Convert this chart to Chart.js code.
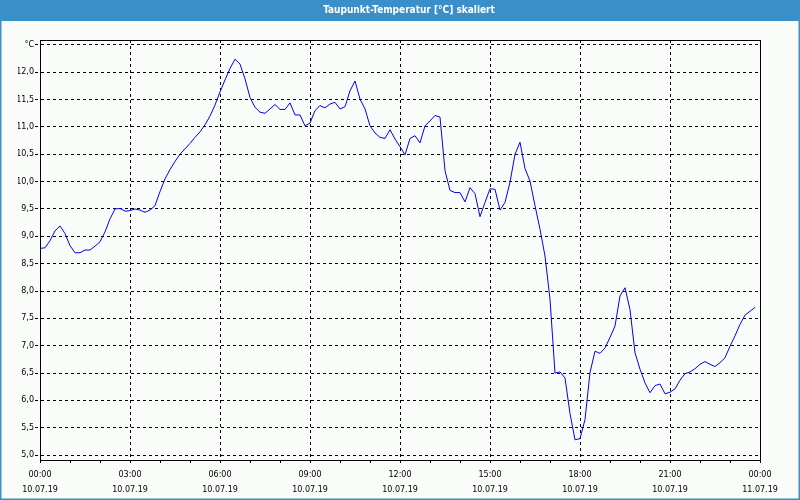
<!DOCTYPE html>
<html><head><meta charset="utf-8">
<script src="https://cdn.jsdelivr.net/npm/chart.js@4/dist/chart.umd.min.js"></script>
<style>html,body{margin:0;padding:0;background:#f9fcf9}canvas{display:block}</style>
</head><body>
<canvas id="c" width="800" height="500"></canvas>
<script>
const chartTitle = 'Taupunkt-Temperatur [°C] skaliert';
const hourLabels = ['00:00','03:00','06:00','09:00','12:00','15:00','18:00','21:00','00:00'];
const dateLabels = ['10.07.19','10.07.19','10.07.19','10.07.19','10.07.19','10.07.19','10.07.19','10.07.19','11.07.19'];
const yTicks = [5.0,5.5,6.0,6.5,7.0,7.5,8.0,8.5,9.0,9.5,10.0,10.5,11.0,11.5,12.0,12.5];
const yUnit = '°C';
const sampleMinutes = 10;
const dewPoint = [
 8.78,8.79,8.92,9.10,9.19,9.05,8.83,8.70,8.70,8.75,8.75,8.82,
 8.90,9.08,9.32,9.50,9.51,9.46,9.47,9.50,9.48,9.44,9.48,9.56,
 9.82,10.05,10.22,10.37,10.50,10.60,10.70,10.81,10.91,11.04,11.20,11.40,
 11.64,11.86,12.07,12.24,12.15,11.88,11.54,11.36,11.27,11.25,11.33,11.41,
 11.32,11.32,11.44,11.22,11.22,11.02,11.07,11.30,11.39,11.35,11.42,11.45,
 11.33,11.37,11.66,11.84,11.51,11.33,11.02,10.89,10.81,10.79,10.95,10.78,
 10.64,10.49,10.79,10.84,10.71,11.02,11.11,11.21,11.18,10.20,9.84,9.80,
 9.80,9.63,9.89,9.78,9.36,9.62,9.87,9.86,9.48,9.62,9.99,10.50,
 10.72,10.24,10.01,9.56,9.13,8.64,7.85,6.50,6.52,6.41,5.76,5.28,
 5.30,5.65,6.51,6.90,6.86,6.96,7.15,7.36,7.91,8.06,7.66,6.87,
 6.57,6.32,6.14,6.27,6.30,6.12,6.15,6.21,6.37,6.49,6.52,6.58,
 6.66,6.71,6.66,6.62,6.69,6.78,6.99,7.18,7.39,7.56,7.63,7.70
];
const points = dewPoint.map((v, i) => ({x: i * sampleMinutes / 60, y: v}));

const frame = {
  id: 'frame',
  beforeDraw(chart) {
    const ctx = chart.ctx;
    ctx.save();
    ctx.fillStyle = '#f9fcf9';
    ctx.fillRect(0, 0, 800, 500);
    ctx.fillStyle = '#3b8fc8';
    ctx.fillRect(0, 0, 800, 21);
    ctx.strokeStyle = '#3b8fc8';
    ctx.lineWidth = 1.5;
    ctx.strokeRect(0.75, 0.75, 798.5, 498.5);
    ctx.restore();
  },
  afterDraw(chart) {
    const a = chart.chartArea, ctx = chart.ctx;
    ctx.save();
    ctx.strokeStyle = '#000';
    ctx.lineWidth = 1;
    ctx.strokeRect(Math.round(a.left) + 0.5, Math.round(a.top) + 0.5, Math.round(a.right - a.left), Math.round(a.bottom - a.top));
    ctx.restore();
  }
};

Chart.defaults.font.family = 'DejaVu Sans';
Chart.defaults.font.size = 8;
Chart.defaults.color = '#000';

new Chart(document.getElementById('c'), {
  type: 'line',
  data: {datasets: [{data: points, borderColor: '#0000ff', borderWidth: 1, pointRadius: 0, tension: 0, fill: false}]},
  options: {
    responsive: false,
    animation: false,
    layout: {padding: {left: 18, right: 0, top: 0, bottom: 0}},
    plugins: {
      legend: {display: false},
      tooltip: {enabled: false},
      title: {display: true, text: chartTitle, color: '#ffffff',
        font: {family: 'DejaVu Sans Condensed', weight: 'bold', size: 10, lineHeight: '10px'},
        padding: {top: 5, bottom: 25}}
    },
    scales: {
      x: {
        type: 'linear', min: 0, max: 24,
        ticks: {stepSize: 1, autoSkip: false, maxRotation: 0, padding: 4,
          font: {size: 8, lineHeight: '15px'},
          callback: (v) => (v % 3 === 0) ? [hourLabels[v / 3], dateLabels[v / 3]] : ''},
        grid: {
          color: (c) => (c.tick && c.tick.value % 3 === 0 && c.tick.value > 0 && c.tick.value < 24) ? '#000' : 'rgba(0,0,0,0)',
          tickColor: '#000', tickLength: 3, tickBorderDash: []
        },
        border: {color: '#000', width: 1, dash: [3, 3]},
        afterFit: (s) => { s.height = 40; s.paddingLeft = 0; s.paddingRight = 40; }
      },
      y: {
        min: 4.91, max: 12.59,
        afterBuildTicks: (s) => { s.ticks = yTicks.map(v => ({value: v})); },
        ticks: {padding: 1, autoSkip: false,
          callback: (v) => v === 12.5 ? yUnit : v.toFixed(1).replace('.', ',')},
        grid: {color: '#000', tickColor: '#000', tickLength: 5, tickBorderDash: [3, 3]},
        border: {color: '#000', width: 1, dash: [3, 3]},
        afterFit: (s) => { s.width = 22; s.paddingTop = 0; s.paddingBottom = 0; }
      }
    }
  },
  plugins: [frame]
});
</script>
</body></html>
